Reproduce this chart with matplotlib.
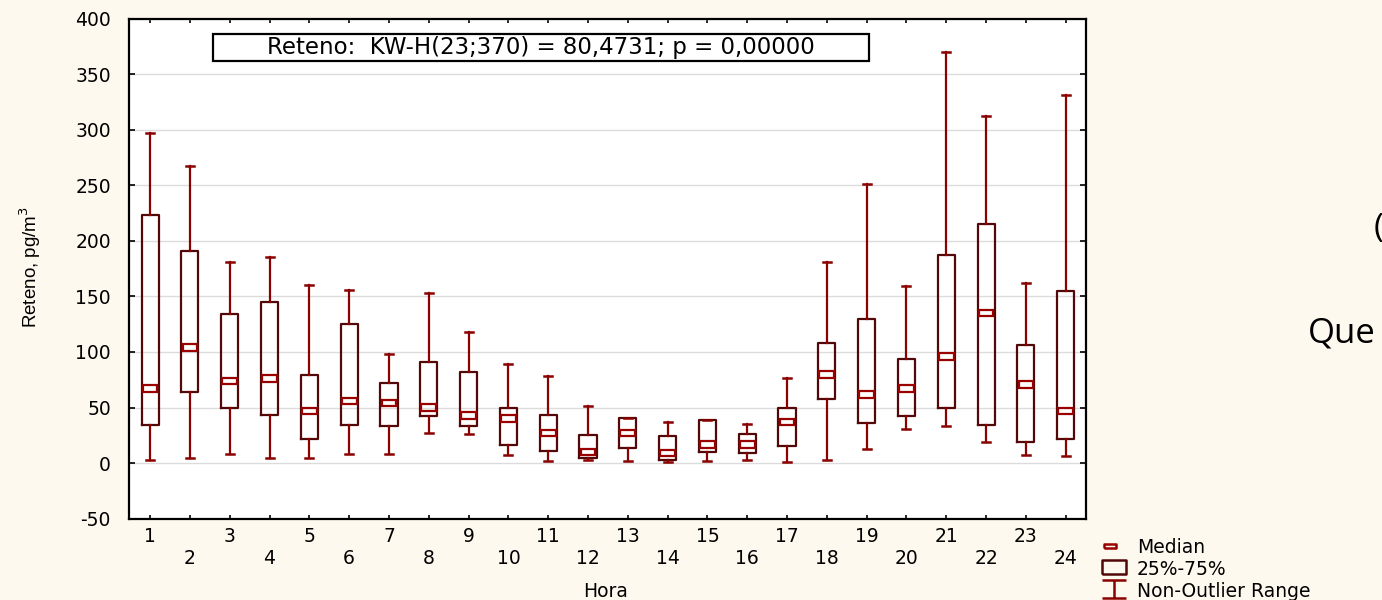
import matplotlib
matplotlib.use("Agg")
import matplotlib.pyplot as plt
from matplotlib.path import Path
from matplotlib.lines import Line2D
from matplotlib.patches import Rectangle

# ---- data ----
hours = list(range(1, 25))
whisker_high = [297, 267, 181, 185, 160, 156, 98, 153, 118, 89, 78, 51,
                41, 37, 39, 35, 77, 181, 251, 159, 370, 312, 162, 331]
q3_values = [223, 191, 134, 145, 79, 125, 72, 91, 82, 50, 43, 25,
             41, 24, 39, 26, 50, 108, 130, 94, 187, 215, 106, 155]
medians = [67, 104, 74, 76, 47, 56, 54, 50, 43, 40, 27, 10,
           27, 9, 17, 17, 37, 80, 62, 67, 96, 135, 71, 47]
q1_values = [34, 64, 50, 43, 22, 34, 33, 42, 33, 16, 11, 4.5,
             14, 3, 10, 9.5, 15, 58, 36, 42, 50, 34, 19, 22]
whisker_low = [3, 5, 8, 5, 5, 8, 8, 27, 26, 7, 2, 3,
               2, 1, 2, 3, 1, 3, 13, 31, 33, 19, 7, 6]
y_ticks = [-50, 0, 50, 100, 150, 200, 250, 300, 350, 400]
annotation = "Reteno:  KW-H(23;370) = 80,4731; p = 0,00000"
legend_labels = ["Median", "25%-75%", "Non-Outlier Range"]

BG = "#fef9ee"
BOX_C = "#520808"
WHI_C = "#8b0000"
MED_C = "#9a0000"
WIDE = ["DejaVu Sans"]
plt.rcParams["font.family"] = WIDE

W, H = 1382, 600
fig = plt.figure(figsize=(W / 100, H / 100), dpi=100, facecolor=BG)
ax = fig.add_axes([129 / W, 1 - 518.7 / H, (1086 - 129) / W, (518.7 - 18.5) / H])
ax.set_facecolor("white")

stats = []
for h, lo, a, m, b, hi in zip(hours, whisker_low, q1_values, medians, q3_values, whisker_high):
    stats.append(dict(label=str(h), whislo=lo, q1=a, med=m, q3=b, whishi=hi))

ax.bxp(stats, positions=hours, widths=0.43, showfliers=False, capwidths=0.2,
       boxprops=dict(color=BOX_C, linewidth=1.6),
       whiskerprops=dict(color=WHI_C, linewidth=1.6),
       capprops=dict(color=WHI_C, linewidth=1.8),
       medianprops=dict(linewidth=0),
       zorder=3)
# median marker: small open rectangle centred on the median
ax.bar(hours, [6] * len(hours), bottom=[m - 3 for m in medians], width=0.37,
       fill=False, edgecolor=MED_C, linewidth=1.6, zorder=4)

ax.set_xlim(0.47, 24.51)
ax.set_ylim(-50, 400)
ax.set_yticks(y_ticks)
ax.set_yticklabels([str(v) for v in y_ticks], fontsize=13.5)
ax.yaxis.grid(True, color="#dcdcdc", linewidth=1.0, zorder=0)
ax.set_axisbelow(True)

ax.set_xticks(hours[0::2])
ax.set_xticklabels([str(h) for h in hours[0::2]], fontsize=13.5)
ax.set_xticks(hours[1::2], minor=True)
ax.set_xticklabels([str(h) for h in hours[1::2]], minor=True, fontsize=13.5)
ax.tick_params(axis="x", which="major", direction="in", length=3, width=1.2, pad=6,
               top=True, bottom=True)
ax.tick_params(axis="x", which="minor", direction="in", length=3, width=1.2, pad=21.5,
               top=True, bottom=True)
ax.tick_params(axis="y", direction="in", length=4, width=1.2, pad=13, left=True, right=True)
for s in ax.spines.values():
    s.set_linewidth(1.6)
    s.set_color("black")

ax.set_ylabel("Reteno, pg/m$^3$", fontsize=13.5, family=["Liberation Sans", "DejaVu Sans"])
ax.yaxis.set_label_coords((43 - 129) / 957, 0.503)

fig.text(606 / W, 1 - 597 / H, "Hora", fontsize=13.5, ha="center", va="baseline")

# statistic annotation with its frame
ax.add_patch(Rectangle((84 / 957, 1 - 61 / 500.2 + 18.5 / 500.2), 656 / 957, 27 / 500.2,
                       transform=ax.transAxes, facecolor="white", edgecolor="black",
                       linewidth=1.6, zorder=5, clip_on=False))
ax.text((84 + 328) / 957, 1 - 47.5 / 500.2 + 18.5 / 500.2, annotation, transform=ax.transAxes,
        fontsize=16.5, ha="center", va="center", zorder=6)

# legend (drawn in figure pixels)
def fx(px):
    return px / W

def fy(py):
    return 1 - py / H

med_marker = Path([(-1, -0.42), (1, -0.42), (1, 0.42), (-1, 0.42), (-1, -0.42)])
box_marker = Path([(-1, -0.56), (1, -0.56), (1, 0.56), (-1, 0.56), (-1, -0.56)])
whis_marker = Path([(-0.95, 0.72), (0.95, 0.72), (0, 0.72), (0, -0.72), (-1, -0.72), (1, -0.72)],
                   [Path.MOVETO, Path.LINETO, Path.MOVETO, Path.LINETO, Path.MOVETO, Path.LINETO])
fig.add_artist(Line2D([fx(1110)], [fy(546)], transform=fig.transFigure, linestyle="none",
                      marker=med_marker, markersize=8.5, markerfacecolor="none",
                      markeredgecolor=MED_C, markeredgewidth=1.8))
fig.add_artist(Line2D([fx(1113.5)], [fy(567)], transform=fig.transFigure, linestyle="none",
                      marker=box_marker, markersize=17, markerfacecolor="none",
                      markeredgecolor=BOX_C, markeredgewidth=1.8))
fig.add_artist(Line2D([fx(1113.5)], [fy(589)], transform=fig.transFigure, linestyle="none",
                      marker=whis_marker, markersize=17.5, markerfacecolor="none",
                      markeredgecolor=WHI_C, markeredgewidth=1.8))
for label, base in zip(legend_labels, [553.3, 575, 597]):
    fig.text(fx(1137), fy(base), label, fontsize=13.5, ha="left", va="baseline")

# background slide fragments
fig.text(1374 / W, 1 - 228 / H, "(", fontsize=24, ha="left", va="center",
         family=["Open Sans", "DejaVu Sans"])
fig.text(1308 / W, 1 - 343 / H, "Que", fontsize=25, ha="left", va="baseline",
         family=["Open Sans", "DejaVu Sans"])

fig.savefig("out.png", dpi=100, facecolor=BG)
